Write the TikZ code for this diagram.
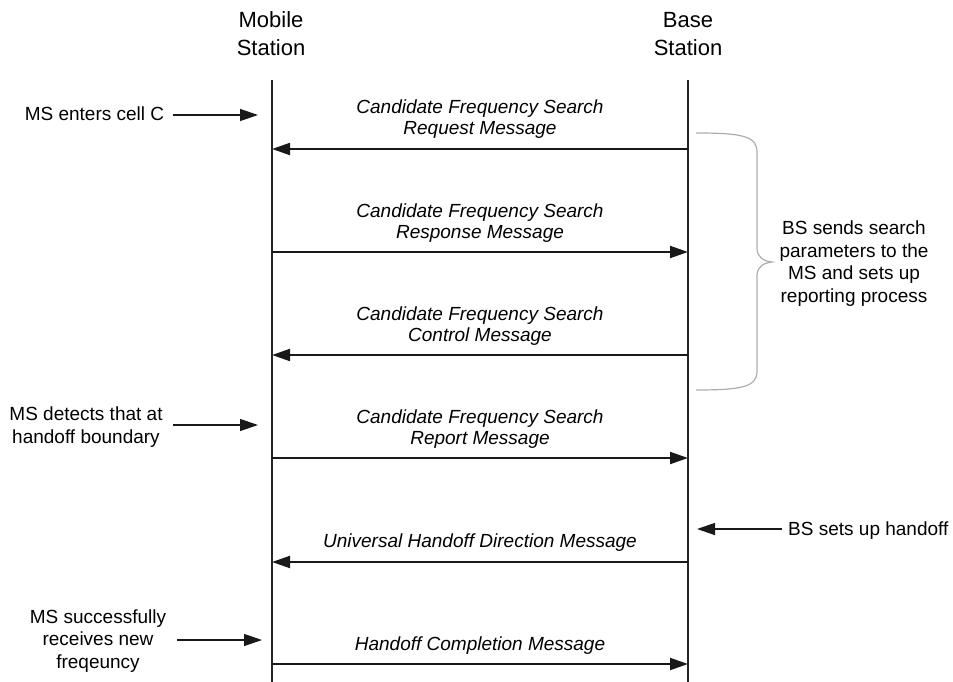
\documentclass[tikz,border=0pt]{standalone}
\usepackage{fontspec}
\setmainfont{Liberation Sans}
\usetikzlibrary{arrows.meta}
\begin{document}
\begin{tikzpicture}[x=1pt,y=-1pt,
  header/.style={font=\fontsize{22}{28}\selectfont, align=center, anchor=base, inner sep=0pt},
  msgtext/.style={font=\fontsize{19}{21}\selectfont\itshape, align=center, anchor=base, inner sep=0pt},
  note/.style={font=\fontsize{19}{22.5}\selectfont, align=center, anchor=base, inner sep=0pt},
  lifeline/.style={line width=1.4pt, draw=black!85},
  msg/.style={line width=2pt, draw=black!90, -{Triangle[length=18pt,width=12pt]}},
  pointer/.style={line width=1.3pt, draw=black!90, -{Triangle[length=18pt,width=12pt]}},
  bracket/.style={draw=black!32, line width=1.2pt}]
\useasboundingbox (0,0) rectangle (953,682);

% participants (anchored on the baseline of the last line)
\node[header] (ms) at (271,56) {Mobile\\Station};
\node[header] (bs) at (688,56) {Base\\Station};

% lifelines
\coordinate (msTop) at (272,80);
\coordinate (msBot) at (272,682);
\coordinate (bsTop) at (688,80);
\coordinate (bsBot) at (688,682);
\draw[lifeline] (msTop) -- (msBot);
\draw[lifeline] (bsTop) -- (bsBot);

% message end points on the lifelines
\foreach \i/\y in {1/149, 2/252, 3/355, 4/458, 5/562, 6/664} {
  \coordinate (ms\i) at (272,\y);
  \coordinate (bs\i) at (688,\y);
}

% messages
\draw[msg] (bs1) -- (ms1);
\node[msgtext] (t1) at (480,135) {Candidate Frequency Search\\Request Message};
\draw[msg] (ms2) -- (bs2);
\node[msgtext] (t2) at (480,238) {Candidate Frequency Search\\Response Message};
\draw[msg] (bs3) -- (ms3);
\node[msgtext] (t3) at (480,341) {Candidate Frequency Search\\Control Message};
\draw[msg] (ms4) -- (bs4);
\node[msgtext] (t4) at (480,444) {Candidate Frequency Search\\Report Message};
\draw[msg] (bs5) -- (ms5);
\node[msgtext] (t5) at (480,547) {Universal Handoff Direction Message};
\draw[msg] (ms6) -- (bs6);
\node[msgtext] (t6) at (480,650) {Handoff Completion Message};

% events at the mobile station
\node[note] (e1) at (94.5,121) {MS enters cell C};
\coordinate (e1a) at (173,115);
\coordinate (e1b) at (258,115);
\draw[pointer] (e1a) -- (e1b);

\node[note] (e2) at (86,443) {MS detects that at\\handoff boundary};
\coordinate (e2a) at (173,425);
\coordinate (e2b) at (258,425);
\draw[pointer] (e2a) -- (e2b);

\node[note] (e3) at (98,668) {MS successfully\\receives new\\freqeuncy};
\coordinate (e3a) at (177,640);
\coordinate (e3b) at (262,640);
\draw[pointer] (e3a) -- (e3b);

% events at the base station
\node[note, anchor=base west] (e4) at (788,535) {BS sets up handoff};
\coordinate (e4a) at (782,529);
\coordinate (e4b) at (697,529);
\draw[pointer] (e4a) -- (e4b);

% brace grouping the search set-up messages
\coordinate (brTop) at (696,133);
\coordinate (brTip) at (772,262);
\coordinate (brBot) at (696,390);
\draw[bracket] (brTop) .. controls (742,133) and (757,136) .. (757,152)
  -- (757,248) .. controls (757,257) and (763,261) .. (brTip)
  .. controls (763,263) and (757,267) .. (757,276)
  -- (757,371) .. controls (757,387) and (742,390) .. (brBot);
\node[note] (grp) at (854,302) {BS sends search\\parameters to the\\MS and sets up\\reporting process};
\end{tikzpicture}
\end{document}
